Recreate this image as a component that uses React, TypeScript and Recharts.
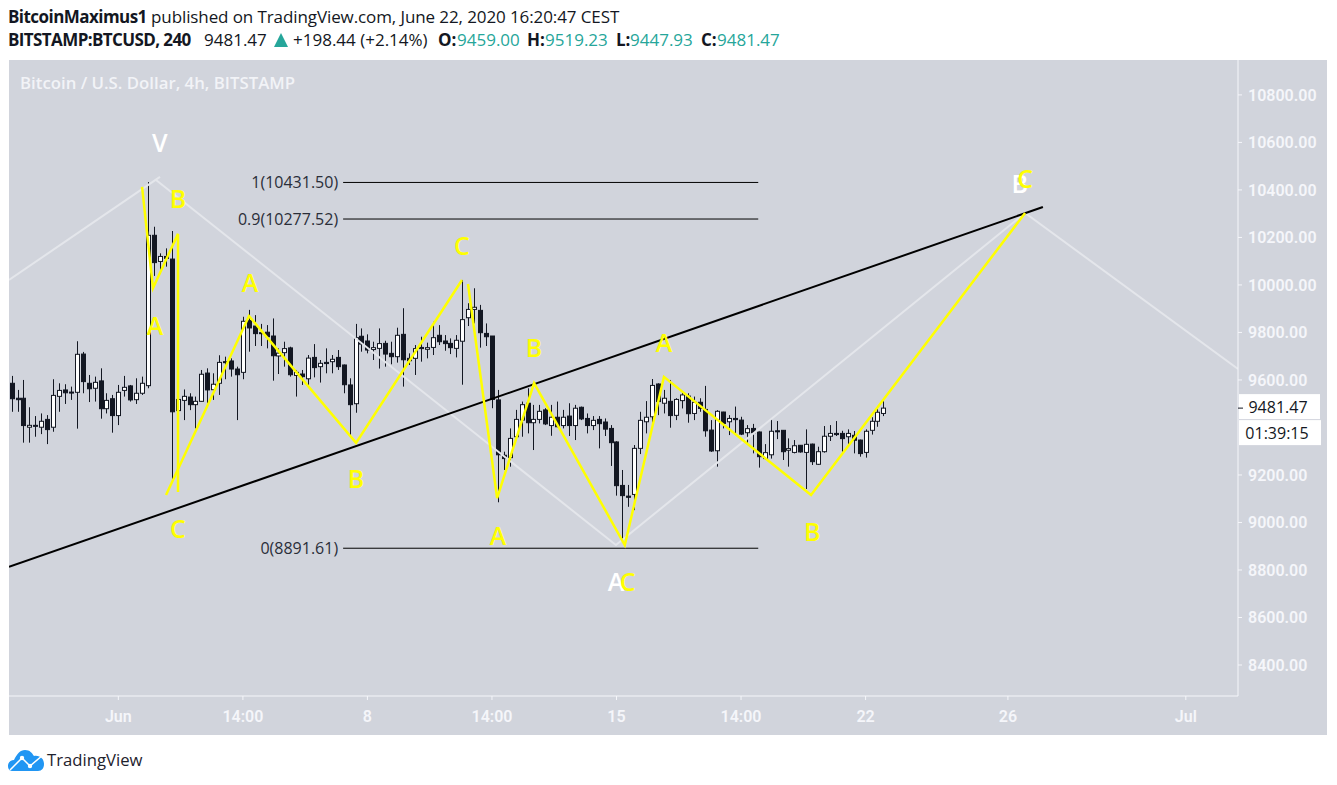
import { Bar, ComposedChart, Line, ReferenceDot, XAxis, YAxis } from 'recharts'

const opens = [
  9586, 9523, 9523, 9401, 9409, 9401, 9434, 9401, 9531, 9558,
  9549, 9548, 9709, 9586, 9565, 9596, 9479, 9521, 9450, 9556,
  9575, 9517, 9544, 9576, 10209, 10099, 10120, 10109, 9471, 9514,
  9528, 9496, 9510, 9629, 9559, 9586, 9677, 9680, 9646, 9632,
  9850, 9827, 9799, 9801, 9785, 9701, 9715, 9735, 9619, 9625,
  9605, 9695, 9656, 9674, 9677, 9695, 9663, 9579, 9500, 9784,
  9764, 9728, 9733, 9754, 9712, 9698, 9792, 9691, 9691, 9737,
  9729, 9737, 9788, 9764, 9754, 9733, 9763, 9862, 9897, 9893,
  9796, 9785, 9516, 9283, 9273, 9361, 9431, 9502, 9420, 9434,
  9474, 9408, 9443, 9408, 9448, 9408, 9485, 9438, 9408, 9434,
  9423, 9396, 9339, 9156, 9111, 9118, 9312, 9424, 9445, 9583,
  9502, 9510, 9451, 9513, 9532, 9459, 9506, 9476, 9389, 9302,
  9465, 9424, 9438, 9431, 9378, 9396, 9381, 9269, 9285, 9386,
  9388, 9304, 9295, 9325, 9295, 9330, 9245, 9298, 9363, 9375,
  9375, 9361, 9367, 9347, 9295, 9388, 9426, 9459,
]
const highs = [
  9617, 9558, 9600, 9485, 9448, 9459, 9452, 9603, 9586, 9582,
  9572, 9763, 9718, 9621, 9614, 9649, 9544, 9537, 9579, 9617,
  9579, 9607, 9614, 10433, 10245, 10133, 10154, 10227, 9558, 9560,
  9544, 9530, 9642, 9649, 9628, 9704, 9698, 9691, 9656, 9866,
  9895, 9873, 9836, 9831, 9859, 9733, 9761, 9740, 9642, 9642,
  9705, 9751, 9684, 9733, 9705, 9726, 9665, 9607, 9836, 9817,
  9792, 9761, 9817, 9765, 9761, 9820, 9902, 9712, 9747, 9782,
  9757, 9845, 9831, 9789, 9775, 9789, 10021, 9923, 9986, 9916,
  9838, 9785, 9558, 9298, 9396, 9474, 9509, 9565, 9495, 9495,
  9481, 9495, 9509, 9474, 9502, 9495, 9488, 9459, 9448, 9448,
  9438, 9410, 9342, 9221, 9158, 9326, 9466, 9511, 9604, 9586,
  9558, 9600, 9523, 9546, 9544, 9530, 9523, 9575, 9431, 9473,
  9466, 9452, 9488, 9445, 9410, 9415, 9383, 9330, 9434, 9427,
  9389, 9354, 9347, 9326, 9392, 9332, 9319, 9406, 9410, 9427,
  9386, 9392, 9385, 9349, 9392, 9443, 9488, 9519.23,
]
const lows = [
  9466, 9466, 9336, 9336, 9361, 9372, 9330, 9382, 9466, 9499,
  9516, 9395, 9544, 9507, 9509, 9437, 9459, 9378, 9410, 9530,
  9509, 9499, 9537, 9565, 10038, 10046, 10077, 9179, 9466, 9431,
  9473, 9396, 9509, 9502, 9516, 9537, 9603, 9614, 9431, 9603,
  9719, 9743, 9743, 9733, 9597, 9625, 9656, 9614, 9530, 9579,
  9579, 9611, 9589, 9628, 9628, 9642, 9544, 9368, 9462, 9719,
  9712, 9684, 9648, 9656, 9666, 9673, 9572, 9663, 9621, 9677,
  9691, 9705, 9747, 9723, 9709, 9695, 9580, 9827, 9838, 9736,
  9743, 9481, 9085, 9221, 9235, 9347, 9361, 9375, 9305, 9417,
  9410, 9365, 9401, 9396, 9364, 9347, 9431, 9375, 9389, 9312,
  9364, 9238, 9113, 8926, 9066, 9052, 9288, 9375, 9403, 9452,
  9459, 9399, 9431, 9480, 9420, 9431, 9466, 9361, 9297, 9235,
  9396, 9368, 9375, 9368, 9333, 9291, 9231, 9263, 9269, 9351,
  9263, 9235, 9291, 9294, 9141, 9242, 9242, 9294, 9343, 9364,
  9298, 9326, 9291, 9277, 9273, 9370, 9403, 9447.93,
]
const closes = [
  9521, 9517, 9408, 9409, 9406, 9426, 9391, 9535, 9556, 9546,
  9546, 9708, 9593, 9563, 9590, 9479, 9514, 9450, 9548, 9569,
  9516, 9544, 9586, 10209, 10094, 10120, 10112, 9466, 9518, 9531,
  9496, 9510, 9624, 9558, 9582, 9674, 9673, 9646, 9622, 9847,
  9819, 9795, 9795, 9782, 9702, 9713, 9732, 9622, 9632, 9614,
  9692, 9652, 9670, 9669, 9687, 9656, 9580, 9496, 9778, 9751,
  9726, 9736, 9753, 9709, 9698, 9788, 9685, 9681, 9732, 9732,
  9736, 9778, 9761, 9753, 9736, 9767, 9854, 9897, 9906, 9799,
  9782, 9518, 9285, 9269, 9354, 9434, 9496, 9420, 9434, 9468,
  9415, 9443, 9403, 9443, 9408, 9481, 9436, 9408, 9430, 9416,
  9393, 9336, 9155, 9113, 9106, 9312, 9430, 9443, 9577, 9509,
  9523, 9450, 9518, 9537, 9458, 9506, 9480, 9386, 9301, 9468,
  9417, 9438, 9433, 9372, 9395, 9378, 9277, 9294, 9384, 9382,
  9298, 9311, 9323, 9297, 9329, 9256, 9298, 9363, 9375, 9370,
  9353, 9375, 9346, 9290, 9384, 9426, 9464, 9481.47,
]

// x is the candle number, 4h per step
const xTicks = [18, 39, 60, 81, 102, 123, 144, 168, 198]
const xTickLabels = ['Jun', '14:00', '8', '14:00', '15', '14:00', '22', '26', 'Jul']
const priceTicks = [8400, 8600, 8800, 9000, 9200, 9600, 9800, 10000, 10200, 10400, 10600, 10800]

const xMin = -0.44
const xMax = 206.8
const lastClose = 9481.47

// drawn wave lines, [candle, price]
const yellowLeg1 = [[22, 10413], [23.84, 9987], [28.06, 10215], [28.06, 9128]]
const yellowLeg2 = [[26.04, 9116], [40.03, 9869], [58.08, 9335], [75.95, 10021]]
const yellowLeg3 = [[76.96, 10004], [81.87, 9103], [88.1, 9587], [103.4, 8905], [110, 9613], [134.8, 9116], [170.9, 10303]]
const whiteLeg1 = [[xMin, 10021], [25.02, 10455]]
const whiteLeg2 = [[24.35, 10442], [101.9, 8905], [170.9, 10303], [xMax, 9646]]
const trendLine = [[xMin, 8813], [173.9, 10328]]

const fibStart = 55.9
const fibEnd = 125.9
const fibPrices = [10431.5, 10277.52, 8891.61]
const fibLabels = ['1(10431.50)', '0.9(10277.52)', '0(8891.61)']

const yellowLetters: [string, number, number][] = [
  ['B', 28.06, 10366], ['A', 24.2, 9832], ['A', 40.2, 10013], ['C', 28.06, 8977],
  ['B', 58.08, 9187], ['C', 75.95, 10168], ['A', 82, 8947], ['B', 88.1, 9739],
  ['A', 110, 9760], ['C', 103.9, 8754], ['B', 135, 8964], ['C', 170.9, 10451],
]
const whiteLetters: [string, number, number][] = [
  ['V', 25, 10602], ['A', 101.9, 8754], ['B', 170, 10429],
]

const candles = opens.map((open, i) => ({
  x: i,
  open,
  high: highs[i],
  low: lows[i],
  close: closes[i],
}))

const toPoints = (leg: number[][]) => leg.map(([x, price]) => ({ x, price }))

const DARK = '#131722'
const BG = '#d1d4dc'
const AXIS = '#f5f6fa'
const FONT = '"Open Sans", sans-serif'
const TEAL = '#26a69a'

const Candle = (props: any) => {
  const { x, y, width, height, payload } = props
  const { open, high, low, close } = payload
  const perUnit = height / (high - low)
  const top = y + (high - Math.max(open, close)) * perUnit
  const bottom = y + (high - Math.min(open, close)) * perUnit
  const cx = Math.round(x + width / 2) + 0.5
  return (
    <g>
      <line x1={cx} x2={cx} y1={y} y2={y + height} stroke={DARK} strokeWidth={1} />
      <rect
        x={cx - 2}
        y={top}
        width={4}
        height={Math.max(bottom - top, 1)}
        fill={close >= open ? '#ffffff' : DARK}
        stroke={DARK}
        strokeWidth={1}
      />
    </g>
  )
}

const letterShape = (text: string, fill: string) => (props: any) => (
  <text
    x={props.cx}
    y={props.cy}
    textAnchor="middle"
    dominantBaseline="central"
    fontFamily={FONT}
    fontSize={25}
    fontWeight={600}
    fill={fill}
  >
    {text}
  </text>
)

const fibLabelShape = (text: string) => (props: any) => (
  <text
    x={props.cx - 5}
    y={props.cy}
    textAnchor="end"
    dominantBaseline="central"
    fontFamily={FONT}
    fontSize={16}
    fill="#2a2e39"
  >
    {text}
  </text>
)

const PriceTag = (props: any) => {
  const { cx, cy } = props
  return (
    <g fontFamily={FONT} fontSize={16} fill="#131722" textAnchor="middle">
      <rect x={cx + 1} y={cy - 14} width={81} height={25} fill="#ffffff" />
      <text x={cx + 40} y={cy - 1} dominantBaseline="central">{lastClose.toFixed(2)}</text>
      <rect x={cx + 1} y={cy + 12} width={82} height={25} fill="#ffffff" />
      <text x={cx + 39} y={cy + 25} dominantBaseline="central">01:39:15</text>
      <line x1={cx} x2={cx + 5} y1={cy} y2={cy} stroke="#131722" />
    </g>
  )
}

const absText = (left: number, top: number) => ({
  position: 'absolute' as const,
  left,
  top,
  whiteSpace: 'nowrap' as const,
  fontFamily: FONT,
  fontSize: 17,
  color: DARK,
})

const App = () => {
  return (
    <div style={{ position: 'absolute', left: 0, top: 0, width: 1337, height: 785, background: '#fff', overflow: 'hidden' }}>
      <div style={{ ...absText(8, 5), letterSpacing: -0.1 }}>
        <b style={{ letterSpacing: -0.55 }}>BitcoinMaximus1</b> published on TradingView.com, June 22, 2020 16:20:47 CEST
      </div>

      <b style={{ ...absText(8, 28), letterSpacing: -0.6 }}>BITSTAMP:BTCUSD, 240</b>
      <span style={absText(204, 28)}>9481.47</span>
      <svg style={{ position: 'absolute', left: 274, top: 33 }} width={14} height={14}>
        <polygon points="7,0 14,14 0,14" fill={TEAL} />
      </svg>
      <span style={absText(293, 28)}>+198.44 (+2.14%)</span>
      <b style={absText(438, 28)}>O:</b>
      <span style={{ ...absText(457, 28), color: TEAL }}>9459.00</span>
      <b style={absText(527, 28)}>H:</b>
      <span style={{ ...absText(545, 28), color: TEAL }}>9519.23</span>
      <b style={absText(616, 28)}>L:</b>
      <span style={{ ...absText(630, 28), color: TEAL }}>9447.93</span>
      <b style={absText(701, 28)}>C:</b>
      <span style={{ ...absText(717, 28), color: TEAL }}>9481.47</span>

      <div style={{ position: 'absolute', left: 9, top: 60, width: 1318, height: 675, background: BG }}>
        <ComposedChart width={1318} height={675} data={candles} margin={{ top: 0, right: 0, bottom: 0, left: 0 }}>
          <XAxis
            dataKey="x"
            type="number"
            domain={[xMin, xMax]}
            allowDataOverflow
            ticks={xTicks}
            tickFormatter={(v: number) => xTickLabels[xTicks.indexOf(v)]}
            height={39}
            stroke={AXIS}
            tick={{ fill: AXIS, fontSize: 16, fontFamily: 'Roboto', fontWeight: 600 }}
            tickSize={4}
            tickMargin={11}
            interval={0}
          />
          <YAxis
            orientation="right"
            type="number"
            domain={[8269.5, 10947]}
            allowDataOverflow
            ticks={priceTicks}
            tickFormatter={(v: number) => v.toFixed(2)}
            width={89}
            stroke={AXIS}
            tick={{ fill: AXIS, fontSize: 16, fontFamily: 'Roboto', fontWeight: 600, textAnchor: 'start' }}
            tickSize={4}
            tickMargin={6}
            interval={0}
          />
          <Bar
            dataKey={(d: any) => [d.low, d.high]}
            barSize={5}
            shape={Candle}
            isAnimationActive={false}
          />
          <Line data={toPoints(whiteLeg1)} dataKey="price" stroke="#e4e6eb" strokeWidth={2} dot={false} isAnimationActive={false} />
          <Line data={toPoints(whiteLeg2)} dataKey="price" stroke="#e4e6eb" strokeWidth={2} dot={false} isAnimationActive={false} />
          <Line data={toPoints(trendLine)} dataKey="price" stroke="#000000" strokeWidth={2} dot={false} isAnimationActive={false} />
          {fibPrices.map((price) => (
            <Line
              key={price}
              data={toPoints([[fibStart, price], [fibEnd, price]])}
              dataKey="price"
              stroke="#000000"
              strokeWidth={1}
              dot={false}
              isAnimationActive={false}
            />
          ))}
          <Line data={toPoints(yellowLeg1)} dataKey="price" stroke="#ffff00" strokeWidth={2.5} dot={false} isAnimationActive={false} />
          <Line data={toPoints(yellowLeg2)} dataKey="price" stroke="#ffff00" strokeWidth={2.5} dot={false} isAnimationActive={false} />
          <Line data={toPoints(yellowLeg3)} dataKey="price" stroke="#ffff00" strokeWidth={2.5} dot={false} isAnimationActive={false} />
          {fibPrices.map((price, i) => (
            <ReferenceDot key={fibLabels[i]} x={fibStart} y={price} r={0} ifOverflow="visible" shape={fibLabelShape(fibLabels[i])} />
          ))}
          {whiteLetters.map(([text, x, y]) => (
            <ReferenceDot key={`w${x}`} x={x} y={y} r={0} ifOverflow="visible" shape={letterShape(text, '#ffffff')} />
          ))}
          {yellowLetters.map(([text, x, y]) => (
            <ReferenceDot key={`y${x}-${y}`} x={x} y={y} r={0} ifOverflow="visible" shape={letterShape(text, '#ffff00')} />
          ))}
          <ReferenceDot x={xMax} y={lastClose} r={0} ifOverflow="visible" shape={PriceTag} />
        </ComposedChart>
      </div>

      <div style={{ ...absText(20, 71), fontSize: 16.8, fontWeight: 600, color: '#f2f3f7' }}>
        Bitcoin / U.S. Dollar, 4h, BITSTAMP
      </div>

      <svg style={{ position: 'absolute', left: 8, top: 750 }} width={36} height={21} viewBox="0 0 36 21">
        <path
          d="M4 21 C1 21 0 18 0 16 C0 12 3 10 6 10 C9 4 12 0 17 0 C22 0 24 3 26 6 C32 5 36 9 36 14 C36 18 34 21 30 21 Z"
          fill="#2196f3"
        />
        <polyline points="2,20 14,8 22,16 35,5" fill="none" stroke="#ffffff" strokeWidth={1.5} />
        <circle cx={14} cy={8} r={2.2} fill="#ffffff" />
        <circle cx={22} cy={16} r={2.2} fill="#ffffff" />
      </svg>
      <div style={{ ...absText(47, 748), fontSize: 16.7, color: '#1e222d' }}>TradingView</div>
    </div>
  )
}

export default App
